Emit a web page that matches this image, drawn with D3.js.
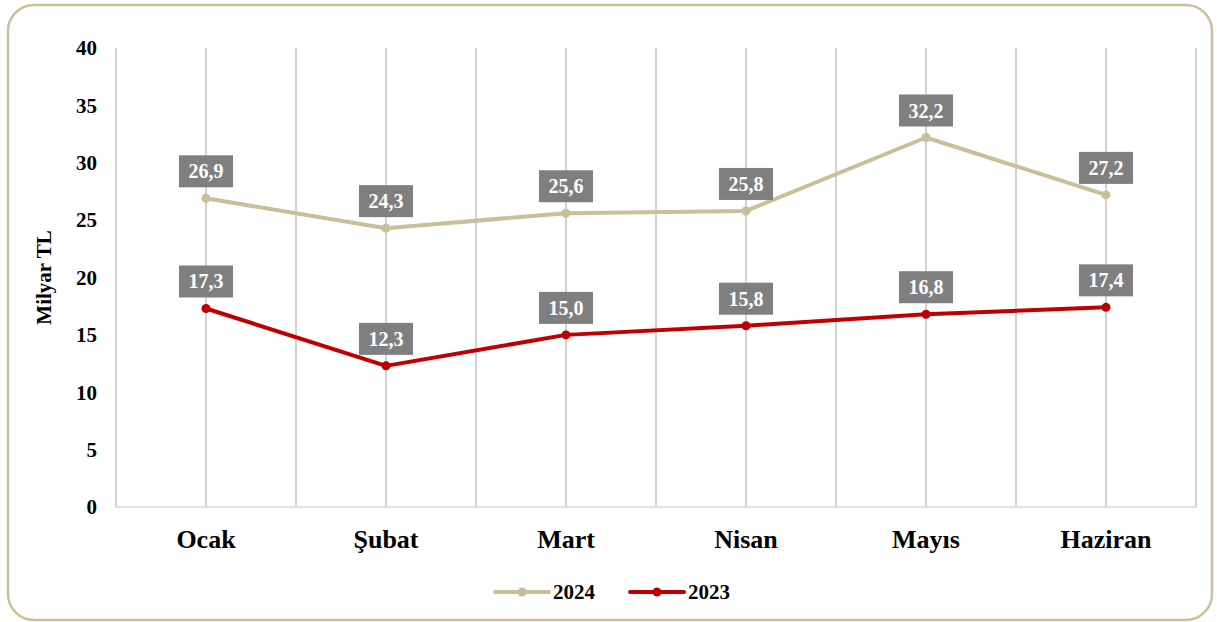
<!DOCTYPE html>
<html lang="tr">
<head>
<meta charset="utf-8">
<script src="https://d3js.org/d3.v7.min.js"></script>
<style>
  html, body { margin: 0; padding: 0; background: #fff; }
  svg { display: block; font-family: "Liberation Serif", "Times New Roman", serif; font-weight: bold; }
</style>
</head>
<body>
<svg id="chart" width="1217" height="622"></svg>
<script>
var months = ["Ocak", "Şubat", "Mart", "Nisan", "Mayıs", "Haziran"];
var values2024 = [26.9, 24.3, 25.6, 25.8, 32.2, 27.2];
var values2023 = [17.3, 12.3, 15.0, 15.8, 16.8, 17.4];
var yTicks = [0, 5, 10, 15, 20, 25, 30, 35, 40];

var series = [
  { name: "2024", values: values2024, color: "#c9bf99" },
  { name: "2023", values: values2023, color: "#c00000" }
];

var svg = d3.select("#chart");
var plotLeft = 116, plotRight = 1196, plotTop = 48, plotBottom = 507;

// frame
svg.append("rect")
  .attr("x", 8).attr("y", 5)
  .attr("width", 1204).attr("height", 615)
  .attr("rx", 26).attr("ry", 26)
  .attr("fill", "none")
  .attr("stroke", "#c9bf99")
  .attr("stroke-width", 2.5);

var x = d3.scaleBand().domain(months).range([plotLeft, plotRight]).padding(0);
var y = d3.scaleLinear().domain([0, 40]).range([plotBottom, plotTop]);

// vertical gridlines at band edges and centres
var gridX = [];
months.forEach(function(m) {
  gridX.push(x(m));
  gridX.push(x(m) + x.bandwidth() / 2);
});
gridX.push(plotRight);

svg.append("g").selectAll("line")
  .data(gridX)
  .enter().append("line")
  .attr("x1", function(d) { return d; })
  .attr("x2", function(d) { return d; })
  .attr("y1", plotTop).attr("y2", plotBottom)
  .attr("stroke", "#c3c3c3")
  .attr("stroke-width", 1.5);

svg.append("line")
  .attr("x1", plotLeft).attr("x2", plotRight)
  .attr("y1", plotBottom).attr("y2", plotBottom)
  .attr("stroke", "#d9d9d9")
  .attr("stroke-width", 1.5);

// y axis labels
svg.append("g").selectAll("text")
  .data(yTicks)
  .enter().append("text")
  .attr("x", 97)
  .attr("y", function(d) { return y(d); })
  .attr("dy", "0.35em")
  .attr("text-anchor", "end")
  .style("font-size", "21px")
  .text(function(d) { return d; });

svg.append("text")
  .attr("transform", "translate(51," + ((plotTop + plotBottom) / 2) + ") rotate(-90)")
  .attr("text-anchor", "middle")
  .style("font-size", "21px")
  .text("Milyar TL");

// x labels
svg.append("g").selectAll("text")
  .data(months)
  .enter().append("text")
  .attr("x", function(d) { return x(d) + x.bandwidth() / 2; })
  .attr("y", 548)
  .attr("text-anchor", "middle")
  .style("font-size", "26px")
  .text(function(d) { return d; });

var line = d3.line()
  .x(function(d, i) { return x(months[i]) + x.bandwidth() / 2; })
  .y(function(d) { return y(d); });

series.forEach(function(s) {
  var g = svg.append("g");
  g.append("path")
    .attr("d", line(s.values))
    .attr("fill", "none")
    .attr("stroke", s.color)
    .attr("stroke-width", 4)
    .attr("stroke-linejoin", "round");
  g.selectAll("circle")
    .data(s.values)
    .enter().append("circle")
    .attr("cx", function(d, i) { return x(months[i]) + x.bandwidth() / 2; })
    .attr("cy", function(d) { return y(d); })
    .attr("r", 4.5)
    .attr("fill", s.color);

  var lab = g.selectAll("g.lab")
    .data(s.values)
    .enter().append("g")
    .attr("class", "lab")
    .attr("transform", function(d, i) {
      return "translate(" + (x(months[i]) + x.bandwidth() / 2) + "," + (y(d) - 27) + ")";
    });
  lab.append("rect")
    .attr("x", -27).attr("y", -16)
    .attr("width", 54).attr("height", 32)
    .attr("fill", "#7f7f7f");
  lab.append("text")
    .attr("text-anchor", "middle")
    .attr("dy", "0.35em")
    .attr("fill", "#fff")
    .style("font-size", "20px")
    .text(function(d) { return d3.format(".1f")(d).replace(".", ","); });
});

// legend
var legendX = [495, 630];
series.forEach(function(s, i) {
  var lg = svg.append("g").attr("transform", "translate(" + legendX[i] + ",592)");
  lg.append("line")
    .attr("x1", 0).attr("x2", 54)
    .attr("y1", 0).attr("y2", 0)
    .attr("stroke", s.color)
    .attr("stroke-width", 4)
    .attr("stroke-linecap", "round");
  lg.append("circle").attr("cx", 27).attr("cy", 0).attr("r", 4.5).attr("fill", s.color);
  lg.append("text")
    .attr("x", 58).attr("dy", "0.35em")
    .style("font-size", "21px")
    .text(s.name);
});
</script>
</body>
</html>
